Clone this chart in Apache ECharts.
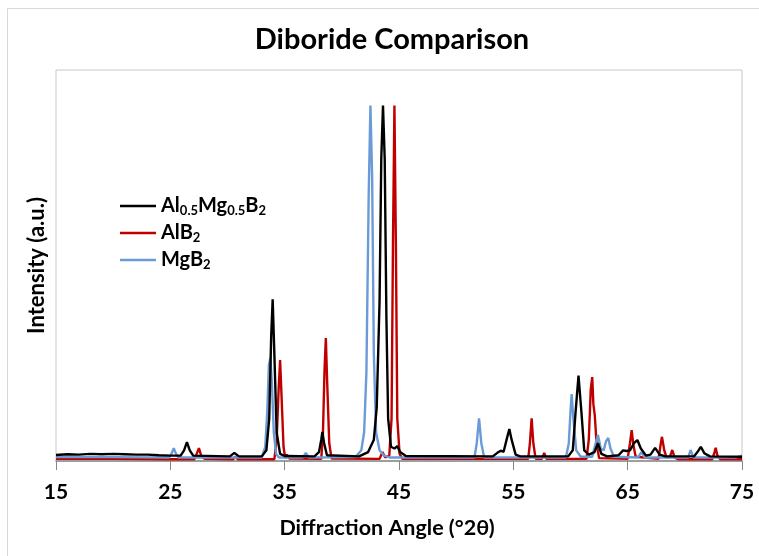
<!DOCTYPE html>
<html>
<head>
<meta charset="utf-8">
<script src="https://cdn.jsdelivr.net/npm/echarts@6/dist/echarts.min.js"></script>
<style>
html,body{margin:0;padding:0;background:#fff;}
#chart{width:759px;height:556px;}
</style>
</head>
<body>
<div id="chart"></div>
<script>
// Data: [2-theta (deg), intensity (a.u.)]
const seriesNames = ['Al0.5Mg0.5B2', 'AlB2', 'MgB2'];
const xTicks = [15, 25, 35, 45, 55, 65, 75];

const alMgB2 = [
  [15,1.7],[16,1.9],[17,1.8],[18,2.0],[19,1.9],[20,2.0],[21,1.9],[22,1.8],[23,1.8],[24,1.6],[25,1.5],
  [25.9,1.5],[26.2,3.0],[26.45,5.3],[26.7,3.0],[27.0,1.5],
  [30.2,1.3],[30.6,2.3],[31.0,1.3],
  [33.0,1.3],[33.4,3],[33.65,12],[33.82,35],[33.95,45.5],[34.1,30],[34.3,8],[34.6,2],[35,1.4],
  [37.6,1.3],[38.0,2.5],[38.2,6],[38.3,8.2],[38.45,5],[38.7,1.6],
  [41.5,1.3],[42.3,2.5],[42.8,6],[43.05,15],[43.3,45],[43.45,85],[43.6,100],[43.75,85],[43.9,40],[44.05,12],[44.3,4],[44.6,3.5],[44.85,4.2],[45.1,2.5],[45.6,1.4],
  [53.2,1.3],[53.6,2.3],[53.9,2.9],[54.15,2.6],[54.45,6.5],[54.65,9],[54.85,6],[55.2,1.8],[55.6,1.3],
  [59.8,1.3],[60.2,3],[60.45,14],[60.7,24],[60.95,14],[61.2,3],[61.6,1.8],[62.1,2.5],[62.4,5],[62.7,2],[63.2,1.3],
  [64.2,1.6],[64.6,3],[64.9,2.8],[65.2,3],[65.55,5],[65.85,5.9],[66.15,3.5],[66.6,1.5],
  [67.0,1.8],[67.4,3.7],[67.8,1.8],[68.3,1.3],
  [70.8,1.3],[71.1,2.5],[71.4,4],[71.7,2.2],[72.2,1.3],[75,1.2]
];

const alB2 = [
  [15,0.6],[20,0.6],[25,0.5],[27.1,0.5],[27.3,2],[27.5,3.6],[27.7,1.5],[28,0.6],
  [30.5,0.5],[30.7,1.3],[30.9,0.5],
  [34.1,0.5],[34.3,6],[34.47,20],[34.6,28.4],[34.73,18],[34.9,4],[35.05,0.8],[35.2,1.8],[35.4,0.7],
  [38.2,0.6],[38.35,8],[38.48,25],[38.6,34.6],[38.72,22],[38.9,5],[39.1,0.7],
  [43.3,0.6],[43.55,2.5],[43.8,1.0],[44.15,1.5],[44.35,12],[44.47,60],[44.6,100],[44.73,60],[44.85,12],[45.05,2],[45.3,0.6],
  [56.3,0.6],[56.45,5],[56.6,12],[56.75,5],[56.95,0.6],[57.5,0.6],[57.7,2.3],[57.9,0.6],
  [61.4,0.6],[61.6,6],[61.77,20],[61.9,23.6],[62.0,16],[62.12,13],[62.28,5],[62.5,0.8],
  [65.0,0.6],[65.2,5],[65.35,8.7],[65.5,4.5],[65.7,1.2],
  [67.7,0.6],[67.9,5],[68.0,6.8],[68.2,3],[68.4,1],[68.7,1.2],[68.9,3.1],[69.1,1],[69.4,0.5],
  [72.4,0.5],[72.6,2.5],[72.7,3.7],[72.85,1.5],[73.1,0.5],[75,0.5]
];

const mgB2 = [
  [15,1.1],[20,1.1],[24.9,1.0],[25.1,2],[25.3,3.6],[25.5,2],[25.7,1.0],
  [33.0,1.0],[33.3,4],[33.48,14],[33.62,27],[33.75,29],[33.88,22],[34.05,8],[34.25,2],[34.5,1],
  [36.6,1.0],[36.85,2.3],[37.1,1],
  [41.2,1.1],[41.7,3],[41.95,8],[42.15,25],[42.35,75],[42.5,100],[42.65,80],[42.8,30],[43.0,8],[43.3,3],[43.7,1.5],[44.2,1],
  [51.6,1.0],[51.8,5],[52.0,12],[52.2,5],[52.45,1.0],
  [59.6,1],[59.85,5],[60.0,14],[60.1,18.8],[60.25,12],[60.5,3],[60.9,1.2],
  [61.9,1.2],[62.2,5],[62.4,7.3],[62.65,3.5],[62.9,3],[63.1,5.5],[63.3,6.5],[63.5,3.5],[63.8,1.2],
  [65.9,1],[66.2,2.5],[66.5,1],
  [70.3,1],[70.5,3.1],[70.75,1],[74.5,1.0],[75,1.5]
];

const FONT = 'Lato';
const colors = {'Al0.5Mg0.5B2': '#000000', 'AlB2': '#c00000', 'MgB2': '#6a9bd6'};
const legendRich = {
  'Al0.5Mg0.5B2': '{n|Al}{s|0.5}{n|Mg}{s|0.5}{n|B}{s|2}',
  'AlB2': '{n|AlB}{s|2}',
  'MgB2': '{n|MgB}{s|2}'
};

const chart = echarts.init(document.getElementById('chart'), null, {renderer: 'canvas'});

function mkSeries(name, data, z) {
  return {
    name: name, type: 'line', data: data, showSymbol: false, symbol: 'none',
    z: z, animation: false,
    lineStyle: {color: colors[name], width: 2.4},
    itemStyle: {color: colors[name]}
  };
}

chart.setOption({
  animation: false,
  backgroundColor: '#ffffff',
  title: {
    text: 'Diboride Comparison', left: 387, top: 20, textAlign: 'center',
    textStyle: {fontFamily: FONT, fontWeight: 'bold', fontSize: 29, color: '#000'}
  },
  graphic: [{
    type: 'rect', shape: {x: 7.5, y: 8.5, width: 800, height: 600},
    style: {fill: 'none', stroke: '#d9d9d9', lineWidth: 1}, z: -1, silent: true
  }],
  legend: {
    orient: 'vertical', left: 115, top: 190,
    data: seriesNames,
    itemWidth: 36, itemHeight: 14, itemGap: 5,
    icon: 'path://M0,6 L34,6 L34,8.4 L0,8.4 Z',
    formatter: function (name) { return legendRich[name]; },
    textStyle: {
      fontFamily: FONT, fontWeight: 'bold', fontSize: 20, color: '#000',
      rich: {
        n: {fontFamily: FONT, fontWeight: 'bold', fontSize: 20, color: '#000', lineHeight: 18},
        s: {fontFamily: FONT, fontWeight: 'bold', fontSize: 13, color: '#000', lineHeight: 12, padding: [9, 0, 0, 0]}
      }
    }
  },
  grid: {
    left: 56, right: 17, top: 70, bottom: 95,
    show: true, borderColor: '#c8c8c8', borderWidth: 1, backgroundColor: '#fff'
  },
  xAxis: {
    type: 'value', min: 15, max: 75, interval: 10,
    name: 'Diffraction Angle (°2θ)', nameLocation: 'middle', nameGap: 56,
    nameTextStyle: {fontFamily: FONT, fontWeight: 'bold', fontSize: 21.5, color: '#000', padding: [0, 24, 0, 0]},
    axisLine: {show: true, onZero: false, lineStyle: {color: '#868686', width: 1.5}},
    axisTick: {show: true, inside: false, length: 9, lineStyle: {color: '#868686'}},
    axisLabel: {
      margin: 21, fontFamily: FONT, fontWeight: 'bold', fontSize: 21, color: '#000',
      formatter: function (v) { return xTicks.indexOf(v) >= 0 ? String(v) : ''; }
    },
    splitLine: {show: false}
  },
  yAxis: {
    type: 'value', min: 0, max: 110,
    name: 'Intensity (a.u.)', nameLocation: 'middle', nameGap: 8,
    nameTextStyle: {fontFamily: FONT, fontWeight: 'bold', fontSize: 22, color: '#000'},
    axisLine: {show: false}, axisTick: {show: false}, axisLabel: {show: false},
    splitLine: {show: false}
  },
  series: [
    mkSeries('AlB2', alB2, 2),
    mkSeries('MgB2', mgB2, 3),
    mkSeries('Al0.5Mg0.5B2', alMgB2, 4)
  ]
});
</script>
</body>
</html>
